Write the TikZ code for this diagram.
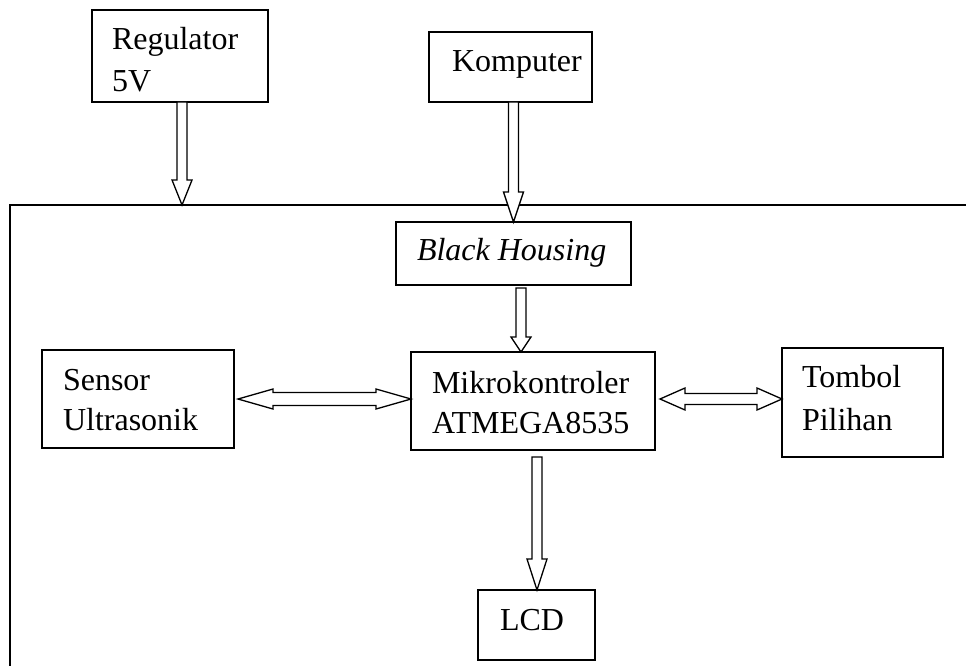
\documentclass[tikz,border=0pt]{standalone}
\usepackage{fontspec}
\setmainfont{Liberation Serif}
\usetikzlibrary{calc}
\begin{document}
\begin{tikzpicture}[x=1pt,y=-1pt,
  box/.style={draw, line width=1.5pt, inner sep=0pt, outer sep=0pt, anchor=north west},
  txt/.style={anchor=base west, inner sep=0pt, outer sep=0pt, font=\fontsize{32}{38}\selectfont},
  blk/.style={draw, line width=1.3pt, fill=white, line join=miter},
  downarrow/.style={to path={let \p1=(\tikztostart), \p2=(\tikztotarget) in
    (\x1-5pt,\y1) -- (\x1-5pt,\y2+#1) -- (\x1-10pt,\y2+#1) -- (\x1,\y2) --
    (\x1+10pt,\y2+#1) -- (\x1+5pt,\y2+#1) -- (\x1+5pt,\y1) -- cycle}},
  dblarrow/.style n args={3}{to path={let \p1=(\tikztostart), \p2=(\tikztotarget) in
    (\x1,\y1) -- (\x1+#1,\y1+#2) -- (\x1+#1,\y1+#3) -- (\x2-#1,\y1+#3) --
    (\x2-#1,\y1+#2) -- (\x2,\y1) -- (\x2-#1,\y1-#2) -- (\x2-#1,\y1-#3) --
    (\x1+#1,\y1-#3) -- (\x1+#1,\y1-#2) -- cycle}}]
\useasboundingbox (0,0) rectangle (966,666);

% frame
\coordinate (fTL) at (10,205);
\coordinate (fTR) at (966,205);
\coordinate (fBL) at (10,666);
\draw[line width=2.2pt] (fTR) -- (fTL) -- (fBL);

% boxes
\node[box, minimum width=176pt, minimum height=92pt] (reg) at (92,10) {};
\node[box, minimum width=163pt, minimum height=70pt] (komp) at (429,32) {};
\node[box, minimum width=235pt, minimum height=63pt] (black) at (396,222) {};
\node[box, minimum width=192pt, minimum height=98pt] (sensor) at (42,350) {};
\node[box, minimum width=244pt, minimum height=98pt] (mikro) at (411,352) {};
\node[box, minimum width=161pt, minimum height=109pt] (tombol) at (782,348) {};
\node[box, minimum width=117pt, minimum height=70pt] (lcd) at (478,590) {};

% texts
\node[txt] (regt1) at (112,50) {Regulator};
\node[txt] (regt2) at (112,92) {5V};
\node[txt] (kompt) at (452,72) {Komputer};
\node[txt] (blackt) at (417,260) {\itshape Black Housing};
\node[txt] (sent1) at (63,390) {Sensor};
\node[txt] (sent2) at (63,430) {Ultrasonik};
\node[txt] (mikt1) at (432,393) {Mikrokontroler};
\node[txt] (mikt2) at (432,433) {ATMEGA8535};
\node[txt] (tomt1) at (802,387) {Tombol};
\node[txt] (tomt2) at (802,430) {Pilihan};
\node[txt] (lcdt) at (500,630) {LCD};

% arrows
\draw[blk, downarrow=25pt] (182,0 |- reg.south) to (fTL);
\draw[blk, downarrow=30pt] (513.5,0 |- komp.south) to (black.north);
\draw[blk, downarrow=15pt] ($(521,0 |- black.south)+(0,3)$) to (mikro.north);
\draw[blk, downarrow=31pt] ($(537,0 |- mikro.south)+(0,7)$) to (lcd.north);
\draw[blk, dblarrow={35pt}{10pt}{6.5pt}] ([xshift=4pt]sensor.east) to (mikro.west);
\draw[blk, dblarrow={25pt}{11pt}{5.5pt}] ($(mikro.east)+(5,-2)$) to (tombol.west);
\end{tikzpicture}
\end{document}
